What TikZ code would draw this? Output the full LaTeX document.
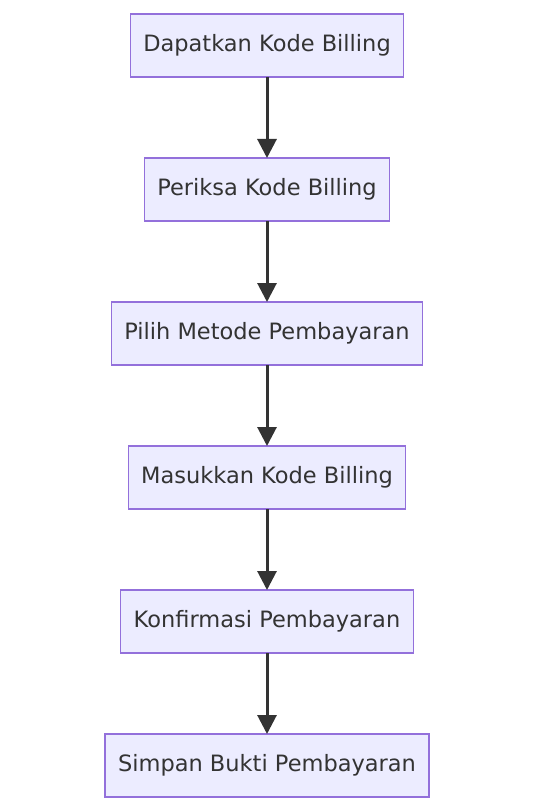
\documentclass[tikz,border=0pt]{standalone}
\usepackage{fontspec}
\setmainfont{DejaVu Sans}
\usepackage{xcolor}
\usetikzlibrary{positioning, arrows.meta}

\definecolor{boxfill}{HTML}{ECECFF}
\definecolor{boxline}{HTML}{9370DB}
\definecolor{flowline}{HTML}{333333}

\begin{document}
\begin{tikzpicture}[x=1pt, y=1pt, node distance=81pt,
  stepbox/.style={draw=boxline, fill=boxfill, line width=1.2pt, outer sep=0pt,
    minimum height=63pt, inner xsep=13pt, font=\fontsize{22.5}{26}\selectfont,
    text=flowline},
  flow/.style={-{Triangle[width=19pt,length=19pt]}, line width=3pt, draw=flowline}]
  \useasboundingbox (0,0) rectangle (538,-810);

  % Steps
  \node[stepbox] (kode) at (267,-45.5) {Dapatkan Kode Billing};
  \node[stepbox, below=of kode] (periksa) {Periksa Kode Billing};
  \node[stepbox, below=of periksa] (metode) {Pilih Metode Pembayaran};
  \node[stepbox, below=of metode] (masuk) {Masukkan Kode Billing};
  \node[stepbox, below=of masuk] (konfirm) {Konfirmasi Pembayaran};
  \node[stepbox, below=of konfirm] (bukti) {Simpan Bukti Pembayaran};

  % Connectors
  \draw[flow] (kode) -- (periksa);
  \draw[flow] (periksa) -- (metode);
  \draw[flow] (metode) -- (masuk);
  \draw[flow] (masuk) -- (konfirm);
  \draw[flow] (konfirm) -- (bukti);
\end{tikzpicture}
\end{document}
